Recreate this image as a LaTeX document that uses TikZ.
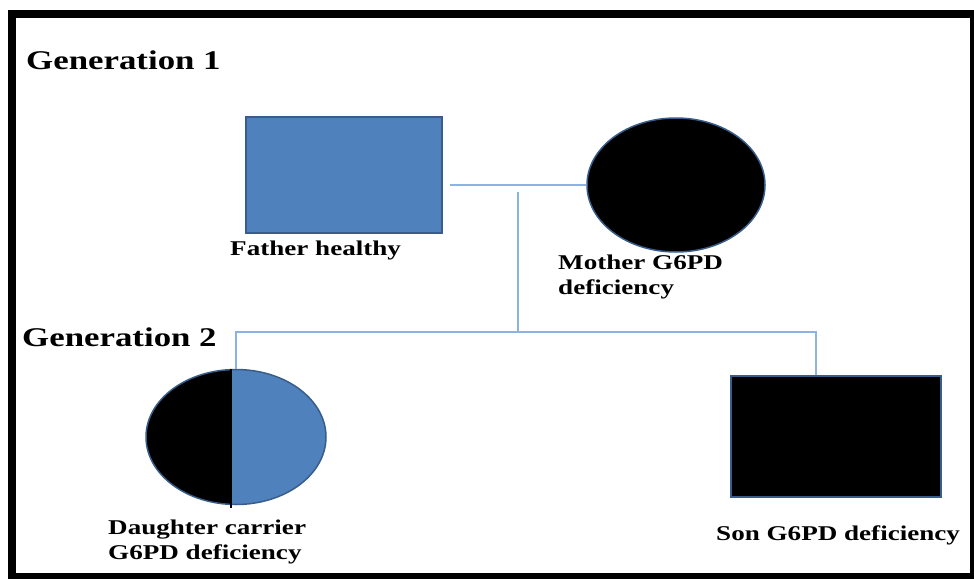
\documentclass[tikz,border=0pt]{standalone}
\usepackage{fontspec}
\setmainfont[FakeStretch=1.29]{Liberation Serif}
\usetikzlibrary{shapes.geometric,positioning,calc}
\definecolor{pedblue}{HTML}{4F81BD}
\definecolor{pededge}{HTML}{385D8A}
\definecolor{linkblue}{HTML}{8DB3E2}

\begin{document}
\begin{tikzpicture}[
  x=1pt, y=-1pt,
  male/.style={draw=pededge, line width=1.5pt, rectangle, inner sep=0pt},
  female/.style={draw=pededge, line width=1.5pt, ellipse, inner sep=0pt},
  link/.style={draw=linkblue, line width=2pt},
  lbl/.style={font=\bfseries\fontsize{21}{25}\selectfont, align=left, inner sep=0pt, anchor=west},
  gen/.style={font=\bfseries\fontsize{27}{30}\selectfont, inner sep=0pt, anchor=west}
]
\useasboundingbox (0,0) rectangle (974,578);

% Frame
\draw[line width=8pt] (12,14) rectangle (974,577);

% Generation 1
\node[gen] (gen1) at (26,60) {Generation 1};
\node[male, fill=pedblue, minimum width=196pt, minimum height=116pt] (father) at (344,175) {};
\node[female, fill=black, minimum width=178pt, minimum height=134pt] (mother) at (676,185) {};
\node[lbl] (fatherlbl) at (230,250) {Father healthy};
\node[lbl] (motherlbl) at (558,277) {Mother G6PD\\deficiency};

% Generation 2
\node[gen] (gen2) at (22,337) {Generation 2};
\node[female, fill=pedblue, minimum width=180pt, minimum height=135pt,
  path picture={\fill[black] (path picture bounding box.north west) rectangle ([xshift=-5pt]path picture bounding box.south);}] (daughter) at (236,437) {};
\draw[line width=1.5pt] ([xshift=-5pt]daughter.north) -- ([xshift=-5pt,yshift=-3pt]daughter.south);
\node[male, fill=black, minimum width=210pt, minimum height=121pt] (son) at (836,436.5) {};
\node[lbl] (daughterlbl) at (108,542) {Daughter carrier\\G6PD deficiency};
\node[lbl] (sonlbl) at (716,535) {Son G6PD deficiency};

% Connectors
\coordinate (mate) at (450,185);
\coordinate (desctop) at (518,192);
\coordinate (descbot) at (518,332);
\coordinate (sibR) at (816,332);
\draw[link] (mate) -- (mother.west);
\draw[link] (desctop) -- (descbot);
\draw[link] (daughter.north) |- (sibR) -- (sibR |- son.north);

\end{tikzpicture}
\end{document}
